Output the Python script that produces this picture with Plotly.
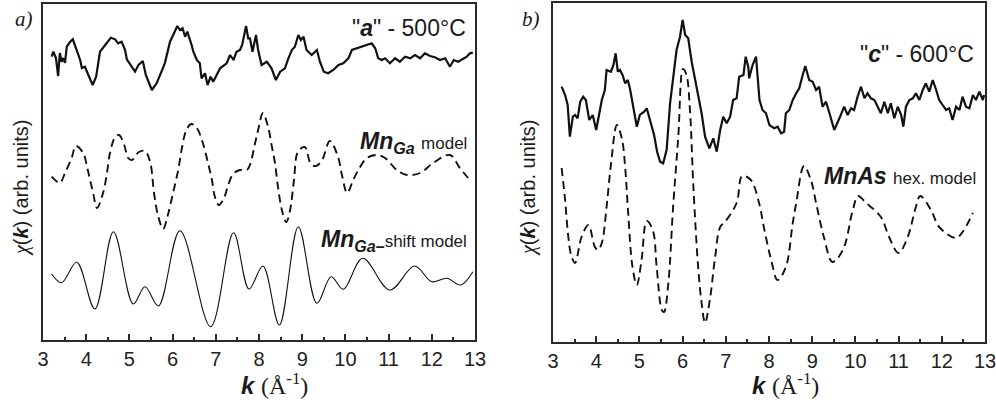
import plotly.graph_objects as go

# ---------------- data (k in 1/Angstrom, chi in arbitrary, offset units) -------------
# panel a) sample "a" - 500 C, experiment
k_a_exp = [3.20, 3.24, 3.30, 3.35, 3.39, 3.43, 3.47, 3.51, 3.55, 3.63, 3.69, 3.74, 3.79, 3.86,
           3.90, 3.97, 4.05, 4.15, 4.23, 4.32, 4.44, 4.57, 4.67, 4.74, 4.82, 4.90, 4.94, 5.05,
           5.13, 5.21, 5.31, 5.38, 5.52, 5.63, 5.75, 5.82, 5.94, 6.02, 6.11, 6.17, 6.23, 6.29,
           6.34, 6.44, 6.48, 6.56, 6.63, 6.67, 6.75, 6.81, 6.88, 6.94, 7.10, 7.25, 7.33, 7.41,
           7.48, 7.56, 7.61, 7.70, 7.75, 7.79, 7.85, 7.93, 7.98, 8.06, 8.18, 8.29, 8.39, 8.49,
           8.60, 8.68, 8.76, 8.83, 8.91, 8.97, 9.03, 9.10, 9.22, 9.34, 9.41, 9.50, 9.60, 9.72,
           9.84, 9.95, 10.07, 10.15, 10.26, 10.38, 10.49, 10.61, 10.69, 10.76, 10.84, 10.92,
           11.03, 11.15, 11.26, 11.38, 11.50, 11.61, 11.73, 11.84, 11.96, 12.07, 12.19, 12.31,
           12.42, 12.51, 12.61, 12.73, 12.81, 12.88, 12.95]
chi_a_exp = [28.33, 28.83, 28.2, 26.4, 28.7, 27.83, 28.2, 27.7, 29.33, 29.83, 30.07, 29.5, 29.0,
             28.0, 27.2, 27.33, 26.5, 25.5, 26.33, 28.83, 29.5, 30.23, 30.07, 29.67, 29.83, 29.0,
             28.07, 27.33, 26.83, 27.5, 27.9, 26.5, 25.0, 25.67, 27.0, 27.67, 29.83, 30.5, 31.4,
             31.0, 31.17, 30.33, 30.83, 29.5, 28.83, 28.0, 27.67, 26.17, 26.67, 25.5, 26.33, 25.83,
             27.17, 27.67, 28.5, 28.0, 28.83, 29.0, 29.5, 31.4, 30.17, 30.17, 28.83, 30.5, 29.0,
             27.5, 27.83, 27.17, 26.0, 26.83, 27.17, 28.17, 29.0, 29.33, 30.5, 30.0, 30.33, 29.0,
             28.5, 29.0, 27.83, 26.83, 26.67, 27.0, 27.5, 27.67, 28.17, 29.0, 29.17, 29.33, 29.5,
             29.67, 29.17, 28.17, 28.0, 28.17, 27.67, 28.17, 27.83, 28.33, 28.17, 28.5, 28.17,
             28.67, 28.4, 28.27, 28.0, 28.17, 27.33, 28.0, 27.83, 28.17, 28.33, 28.67, 28.73]

# panel a) Mn_Ga model (dashed)
k_a_mnga = [3.20, 3.28, 3.39, 3.51, 3.67, 3.76, 3.93, 4.02, 4.09, 4.16, 4.25, 4.39, 4.48, 4.55,
            4.67, 4.76, 4.88, 4.97, 5.06, 5.22, 5.36, 5.48, 5.57, 5.66, 5.78, 5.89, 6.01, 6.13,
            6.22, 6.31, 6.43, 6.56, 6.70, 6.82, 6.91, 6.98, 7.07, 7.19, 7.28, 7.40, 7.56, 7.72,
            7.79, 7.91, 7.98, 8.09, 8.21, 8.30, 8.37, 8.44, 8.53, 8.63, 8.72, 8.81, 8.90, 9.06,
            9.20, 9.32, 9.46, 9.64, 9.83, 9.92, 10.04, 10.18, 10.34, 10.50, 10.73, 10.92, 11.19,
            11.43, 11.73, 12.03, 12.42, 12.65, 12.84]
chi_a_mnga = [16.33, 16.0, 15.7, 16.7, 18.3, 19.4, 18.7, 17.3, 16.0, 14.7, 13.2, 14.7, 16.7, 18.7,
              20.3, 20.5, 19.5, 18.2, 18.0, 18.8, 18.9, 17.8, 14.7, 12.5, 11.1, 12.5, 14.7, 17.0,
              19.3, 20.9, 21.6, 21.2, 19.7, 17.7, 16.0, 14.3, 13.5, 14.2, 15.4, 16.6, 17.0, 17.0,
              17.5, 19.7, 21.0, 22.7, 21.3, 19.3, 17.7, 15.3, 13.0, 11.8, 13.0, 16.0, 18.8, 19.3,
              17.6, 17.4, 18.0, 19.9, 18.3, 16.5, 14.7, 16.0, 17.3, 18.2, 18.5, 18.2, 17.0, 16.5,
              16.7, 17.7, 18.5, 17.2, 16.2]

# panel a) Mn_Ga-shift model (thin solid)
k_a_shift = [3.20, 3.43, 3.78, 4.20, 4.63, 5.09, 5.36, 5.67, 6.17, 6.88, 7.41, 7.77, 8.09, 8.47,
             8.91, 9.34, 9.67, 9.95, 10.40, 11.03, 11.60, 12.00, 12.35, 12.67, 12.95]
chi_a_shift = [6.6, 5.73, 7.77, 3.1, 10.83, 3.6, 5.33, 3.4, 10.93, 1.33, 10.73, 5.1, 7.4, 1.5,
               11.33, 3.67, 6.33, 5.07, 8.17, 5.0, 7.4, 5.83, 6.17, 5.5, 6.83]

# panel b) sample "c" - 600 C, experiment
k_b_exp = [3.20, 3.28, 3.34, 3.39, 3.46, 3.51, 3.57, 3.63, 3.70, 3.76, 3.84, 3.92, 4.00, 4.07,
           4.13, 4.20, 4.24, 4.34, 4.40, 4.45, 4.50, 4.55, 4.61, 4.67, 4.73, 4.78, 4.86, 4.94,
           5.01, 5.11, 5.17, 5.25, 5.34, 5.41, 5.48, 5.55, 5.63, 5.71, 5.78, 5.86, 5.94, 6.00,
           6.06, 6.13, 6.21, 6.29, 6.36, 6.44, 6.52, 6.62, 6.71, 6.79, 6.87, 6.94, 7.02, 7.10,
           7.17, 7.25, 7.31, 7.41, 7.46, 7.52, 7.54, 7.62, 7.70, 7.78, 7.85, 7.93, 8.01, 8.12,
           8.20, 8.28, 8.35, 8.39, 8.47, 8.55, 8.63, 8.70, 8.78, 8.84, 8.93, 9.01, 9.09, 9.16,
           9.24, 9.32, 9.40, 9.51, 9.63, 9.74, 9.82, 9.90, 9.97, 10.05, 10.13, 10.21, 10.28,
           10.36, 10.44, 10.52, 10.59, 10.67, 10.75, 10.82, 10.90, 10.98, 11.06, 11.11, 11.17,
           11.25, 11.33, 11.40, 11.48, 11.56, 11.63, 11.71, 11.79, 11.87, 11.94, 12.02, 12.10,
           12.17, 12.25, 12.33, 12.41, 12.48, 12.56, 12.64, 12.72, 12.79, 12.87, 12.95, 12.98]
chi_b_exp = [25.53, 24.7, 23.7, 20.53, 22.53, 22.7, 22.37, 24.03, 24.53, 24.2, 22.2, 22.7, 21.2,
             22.87, 24.2, 25.2, 27.2, 27.03, 27.7, 28.87, 27.03, 27.2, 26.7, 25.87, 26.2, 25.37,
             23.53, 21.53, 22.7, 23.03, 23.37, 22.2, 20.7, 19.03, 18.03, 17.87, 19.2, 23.87, 26.2,
             29.2, 30.53, 32.2, 30.7, 30.37, 28.03, 26.2, 24.53, 22.87, 20.53, 19.37, 20.37, 19.03,
             21.2, 22.53, 21.87, 22.53, 24.2, 24.37, 26.53, 26.7, 28.53, 27.53, 26.37, 27.7, 28.53,
             24.2, 23.2, 22.87, 21.7, 21.37, 21.53, 20.87, 21.03, 22.87, 23.2, 24.2, 24.87, 25.37,
             26.7, 27.6, 26.2, 26.03, 25.2, 25.53, 23.53, 24.03, 22.87, 21.2, 22.37, 23.53, 22.7,
             23.37, 23.2, 24.53, 25.53, 24.37, 24.87, 24.37, 24.2, 23.53, 22.87, 24.03, 22.87,
             23.87, 22.37, 23.53, 22.7, 21.53, 23.53, 24.2, 24.37, 24.87, 24.2, 25.2, 25.87, 25.03,
             26.2, 25.2, 24.2, 23.7, 23.2, 23.37, 22.2, 23.53, 23.2, 24.53, 23.53, 23.37, 24.7,
             24.2, 25.03, 24.2, 24.7]

# panel b) MnAs hex. model (dashed)
k_b_mnas = [3.20, 3.28, 3.35, 3.42, 3.51, 3.66, 3.82, 3.97, 4.04, 4.13, 4.24, 4.34, 4.48, 4.60,
            4.67, 4.74, 4.84, 4.94, 5.05, 5.17, 5.31, 5.40, 5.52, 5.57, 5.67, 5.78, 5.90, 6.01,
            6.09, 6.17, 6.25, 6.36, 6.44, 6.52, 6.63, 6.75, 6.87, 6.98, 7.25, 7.38, 7.58, 7.77,
            7.88, 8.05, 8.20, 8.39, 8.55, 8.63, 8.81, 8.97, 9.09, 9.27, 9.47, 9.71, 9.94, 10.06,
            10.25, 10.59, 10.78, 11.00, 11.21, 11.40, 11.50, 11.75, 11.94, 12.33, 12.48, 12.72]
chi_b_mnas = [17.4, 14.2, 10.7, 8.7, 7.9, 10.5, 11.7, 9.5, 9.2, 9.9, 13.5, 17.7, 21.7, 20.2,
              17.5, 12.9, 7.5, 5.7, 8.2, 12.1, 11.2, 7.5, 3.2, 3.0, 5.9, 13.5, 20.5, 27.3,
              26.7, 23.2, 15.5, 7.5, 3.9, 1.9, 4.2, 8.4, 11.5, 12.0, 13.9, 16.6, 16.2, 13.9,
              11.5, 8.2, 6.2, 7.5, 11.9, 13.9, 17.6, 16.2, 13.9, 10.5, 8.0, 9.2, 13.2, 14.6,
              13.9, 12.5, 10.5, 8.9, 10.5, 13.5, 14.6, 13.2, 11.5, 10.4, 11.0, 12.9]

k_ticks = [3, 4, 5, 6, 7, 8, 9, 10, 11, 12, 13]

# ---------------- figure -------------
W, H = 996, 407
INK = "#111111"
AX = "#2a2a2a"
SANS = "Liberation Sans, Arial, sans-serif"
SERIF = "Liberation Serif, Times New Roman, serif"

fig = go.Figure()
fig.add_trace(go.Scatter(x=k_a_exp, y=chi_a_exp, mode="lines",
                         line=dict(color=INK, width=2.2), xaxis="x", yaxis="y"))
fig.add_trace(go.Scatter(x=k_a_mnga, y=chi_a_mnga, mode="lines",
                         line=dict(color=INK, width=1.9, dash="8px,5px", shape="spline", smoothing=1.0),
                         xaxis="x", yaxis="y"))
fig.add_trace(go.Scatter(x=k_a_shift, y=chi_a_shift, mode="lines",
                         line=dict(color=INK, width=1.1, shape="spline", smoothing=1.0),
                         xaxis="x", yaxis="y"))
fig.add_trace(go.Scatter(x=k_b_exp, y=chi_b_exp, mode="lines",
                         line=dict(color=INK, width=2.2), xaxis="x2", yaxis="y2"))
fig.add_trace(go.Scatter(x=k_b_mnas, y=chi_b_mnas, mode="lines",
                         line=dict(color=INK, width=1.9, dash="8px,5px", shape="spline", smoothing=1.0),
                         xaxis="x2", yaxis="y2"))

xcommon = dict(range=[3, 13], tickmode="array", tickvals=k_ticks, ticks="inside", ticklen=6,
               tickwidth=2, tickcolor=AX, showline=True, linewidth=2, linecolor=AX, mirror=True,
               showgrid=False, zeroline=False, automargin=False, ticklabeloverflow="allow",
               tickfont=dict(family=SANS, size=20, color="#222"),
               minor=dict(ticks="inside", ticklen=3.5, tickwidth=2, tickcolor=AX, dtick=0.5,
                          showgrid=False))
ycommon = dict(showticklabels=False, ticks="", showline=True, linewidth=2, linecolor=AX,
               mirror=True, showgrid=False, zeroline=False, automargin=False)

fig.update_layout(
    width=W, height=H, margin=dict(l=0, r=0, t=0, b=0, autoexpand=False),
    paper_bgcolor="white", plot_bgcolor="white", showlegend=False,
    xaxis=dict(domain=[43 / W, 475 / W], anchor="y", **xcommon),
    yaxis=dict(domain=[67 / H, 403 / H], anchor="x", range=[0, 33.6], **ycommon),
    xaxis2=dict(domain=[553 / W, 985 / W], anchor="y2", **xcommon),
    yaxis2=dict(domain=[65 / H, 404 / H], anchor="x2", range=[0, 33.9], **ycommon),
)


def note(text, px, py, size=22, xanchor="center", family=SANS, angle=0):
    fig.add_annotation(text=text, x=px / W, y=1 - py / H, xref="paper", yref="paper",
                       xanchor=xanchor, yanchor="middle", showarrow=False, textangle=angle,
                       font=dict(family=family, size=size, color="#1a1a1a"))


small = '<span style="font-size:17px">'
note('"<b><i>a</i></b>" - 500°C', 468, 28, size=23, xanchor="right")
note('<b><i>Mn<sub>Ga</sub></i></b> ' + small + 'model</span>', 469, 142, size=23, xanchor="right")
note('<b><i>Mn<sub>Ga–</sub></i></b>' + small + 'shift model</span>', 469, 240, size=23,
     xanchor="right")
note('"<b><i>c</i></b>" - 600°C', 976, 54, size=23, xanchor="right")
note('<b><i>MnAs</i></b> ' + small + 'hex. model</span>', 978, 176, size=23, xanchor="right")

note('<i>a)</i>', 24, 19, size=21, family=SERIF)
note('<i>b)</i>', 531, 19, size=21, family=SERIF)

ytitle = ('<span style="font-family:Liberation Serif"><i>χ</i></span>(<b><i>k</i></b>)'
          ' (arb. units)')
note(ytitle, 21, 188, size=20, angle=-90)
note(ytitle, 528, 188, size=20, angle=-90)

xtitle = '<b><i>k</i></b> <span style="font-family:Liberation Serif">(Å<sup>-1</sup>)</span>'
note(xtitle, 274, 384, size=24)
note(xtitle, 785, 384, size=24)

# the page body keeps a default 8px margin; remove it (and any scrollbars) so the
# 996x407 figure sits exactly in the 996x407 window
page_fix = ("document.body.style.margin='0';document.body.style.overflow='hidden';"
            "document.documentElement.style.overflow='hidden';")
fig.write_html("out.html", post_script=page_fix, config={"displayModeBar": False})
